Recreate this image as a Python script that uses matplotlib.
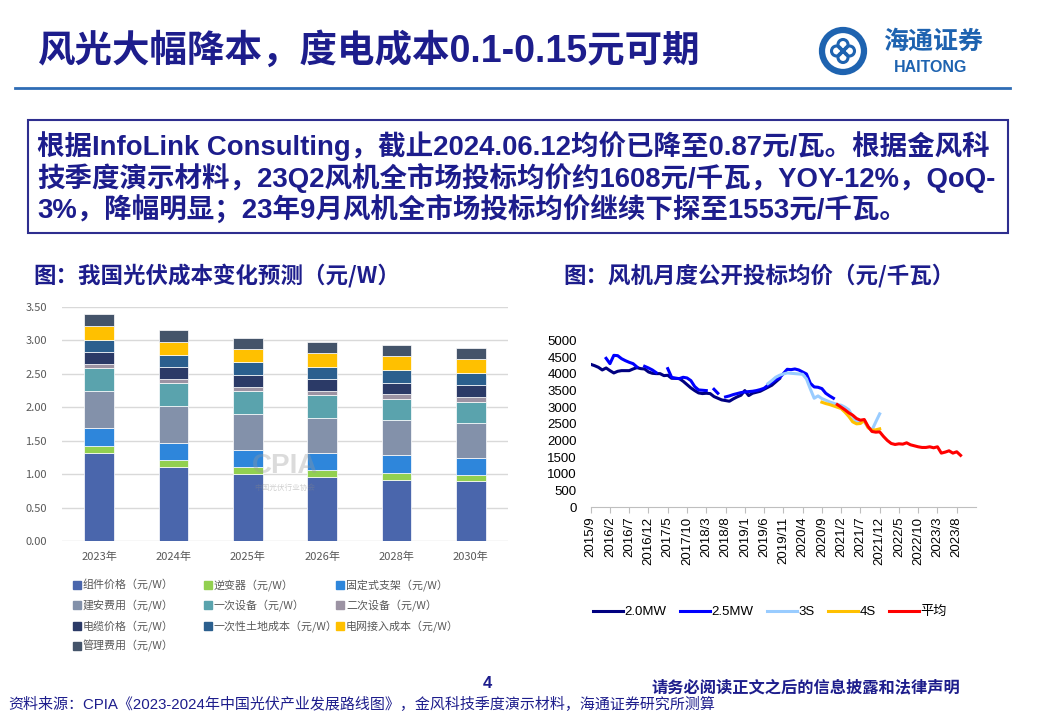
import numpy as np
import matplotlib
matplotlib.use('Agg')
import matplotlib.pyplot as plt
from matplotlib.patches import Rectangle, Circle

plt.rcParams['font.family'] = ['Noto Sans CJK SC', 'DejaVu Sans']
ARIAL_CJK = ['Liberation Sans', 'Noto Sans CJK SC']
NAVY = '#1D1D8C'

# 左图：我国光伏成本变化预测（元/W）
years = ['2023年', '2024年', '2025年', '2026年', '2028年', '2030年']
cost_names = ['组件价格（元/W）', '逆变器（元/W）', '固定式支架（元/W）',
              '建安费用（元/W）', '一次设备（元/W）', '二次设备（元/W）',
              '电缆价格（元/W）', '一次性土地成本（元/W）', '电网接入成本（元/W）',
              '管理费用（元/W）']
module = [1.32, 1.10, 1.00, 0.95, 0.91, 0.89]
inverter = [0.10, 0.11, 0.11, 0.11, 0.11, 0.10]
bracket = [0.27, 0.26, 0.25, 0.26, 0.26, 0.25]
install = [0.56, 0.55, 0.54, 0.52, 0.53, 0.52]
primary = [0.34, 0.34, 0.35, 0.34, 0.32, 0.32]
secondary = [0.06, 0.07, 0.05, 0.07, 0.07, 0.08]
cable = [0.18, 0.17, 0.18, 0.17, 0.17, 0.17]
land = [0.18, 0.18, 0.20, 0.19, 0.19, 0.19]
grid_cost = [0.20, 0.20, 0.19, 0.20, 0.21, 0.20]
manage = [0.18, 0.18, 0.17, 0.17, 0.16, 0.17]
cost_colors = ['#4A66AC', '#92D050', '#2E86DB', '#8391AA', '#5AA3AD',
               '#9C93A3', '#2B3A67', '#2B5F8E', '#FFC000', '#44546A']

# 右图：风机月度公开投标均价（元/千瓦），月份序号 0 = 2015/9
month_ticks = ['2015/9', '2016/2', '2016/7', '2016/12', '2017/5', '2017/10',
               '2018/3', '2018/8', '2019/1', '2019/6', '2019/11', '2020/4',
               '2020/9', '2021/2', '2021/7', '2021/12', '2022/5', '2022/10',
               '2023/3', '2023/8']
nan = np.nan
mw20_start = 0
mw20 = [4290, 4250, 4200, 4120, 4180, 4100, 4030, 4080, 4100, 4100,
        4100, 4150, 4190, 4160, 4150, 4060, 4020, 4010, 4010, 3950,
        3960, 3870, 3870, 3860, 3780, 3680, 3580, 3500, 3430, 3410,
        3420, 3410, 3320, 3270, 3220, 3200, 3180, 3250, 3310, 3360,
        3500, 3350, 3420, 3450, 3480, 3540, 3600, 3660, 3760, 3860]
mw25_start = 4
mw25 = [4470, 4310, 4560, 4550, 4460, 4400, 4350, 4310, 4210, nan,
        4230, 4180, 4120, 4040, nan, nan, 4160, 3900, 3870, 3860,
        3900, 3880, 3800, 3620, 3520, 3510, 3500, nan, 3540, 3420,
        nan, 3310, 3340, 3380, 3410, 3440, 3460, 3470, 3480, 3500,
        3530, 3570, 3660, 3740, 3820, 3880, 4010, 4140, 4130, 4150,
        4120, 4060, 4000, 3720, 3610, 3600, 3560, 3420, 3340, 3270]
s3_start = 46
s3 = [3710, 3800, 3900, 3960, 4000, 4030, 4020, 4010, 4000, 3990,
      3850, 3550, 3270, 3340, 3260, 3210, 3160, 3120, 3080, 3060,
      3000, 2920, 2720, 2540, 2600, 2560, 2400, 2310, 2560, 2800]
s4_start = 60
s4 = [3150, 3110, 3080, 3040, 3000, 2960, 2850, 2720, 2560, 2500,
      2510, 2610, 2380, 2310, 2320, 2350]
avg_start = 64
avg = [3080, 3000, 2920, 2830, 2760, 2660, 2610, 2630, 2420, 2270,
       2250, 2260, 2120, 2000, 1910, 1880, 1900, 1890, 1930, 1870,
       1840, 1810, 1790, 1790, 1810, 1780, 1810, 1620, 1650, 1690,
       1620, 1660, 1553]

fig = plt.figure(figsize=(10.4, 7.18), dpi=100)

# 背景层（像素坐标）
bg = fig.add_axes([0, 0, 1, 1])
bg.set_xlim(0, 1040)
bg.set_ylim(718, 0)
bg.axis('off')

bg.text(38, 51, '风光大幅降本，度电成本0.1-0.15元可期', fontsize=27, weight='bold',
        color=NAVY, va='center', family=ARIAL_CJK)
bg.plot([15, 1010], [88, 88], color='#2F6DB5', lw=2)

# logo
bg.add_patch(Circle((843, 51), 21, fill=False, ec='#1E63B0', lw=4.5))
for dx, dy in [(-6.5, 0), (6.5, 0), (0, -6.5), (0, 6.5)]:
    bg.add_patch(Circle((843 + dx, 51 + dy), 5, fill=False, ec='#1E63B0', lw=2.2))
bg.text(933, 42, '海通证券', fontsize=18, weight='bold', color='#1E63B0',
        ha='center', va='center', style='italic')
bg.text(931, 67, 'HAITONG', fontsize=11.5, weight='bold', color='#1E63B0',
        ha='center', va='center', family='Liberation Sans')

# 文字框
bg.add_patch(Rectangle((28, 120), 980, 113, fill=False, ec='#2E2E8F', lw=1.5))
box_lines = ['根据InfoLink Consulting，截止2024.06.12均价已降至0.87元/瓦。根据金风科',
             '技季度演示材料，23Q2风机全市场投标均价约1608元/千瓦，YOY-12%，QoQ-',
             '3%，降幅明显；23年9月风机全市场投标均价继续下探至1553元/千瓦。']
for i, line in enumerate(box_lines):
    bg.text(37, 146 + i * 31.5, line, fontsize=19.8, weight='bold', color=NAVY,
            va='center', family=ARIAL_CJK)

bg.text(33, 276, '图：我国光伏成本变化预测（元/W）', fontsize=16.2, weight='bold',
        color=NAVY, va='center')
bg.text(563, 276, '图：风机月度公开投标均价（元/千瓦）', fontsize=16.2, weight='bold',
        color=NAVY, va='center')

# 页脚
bg.text(487, 684, '4', fontsize=12, weight='bold', color=NAVY, ha='center', va='center',
        family='Liberation Sans')
bg.text(960, 687, '请务必阅读正文之后的信息披露和法律声明', fontsize=11.7, weight='bold',
        color=NAVY, ha='right', va='center')
bg.text(8, 704, '资料来源：CPIA《2023-2024年中国光伏产业发展路线图》，金风科技季度演示材料，海通证券研究所测算',
        fontsize=10.8, color=NAVY, va='center', family=ARIAL_CJK)

# 左图
ax1 = fig.add_axes([62 / 1040, 1 - 541 / 718, 446 / 1040, 234 / 718])
series = [module, inverter, bracket, install, primary, secondary, cable, land,
          grid_cost, manage]
x = np.arange(len(years))
bottom = np.zeros(len(years))
for vals, c, name in zip(series, cost_colors, cost_names):
    ax1.bar(x, vals, 0.4, bottom=bottom, color=c, edgecolor='white', lw=0.5,
            label=name, zorder=3)
    bottom += np.array(vals)
ax1.set_xlim(-0.5, 5.5)
ax1.set_ylim(0, 3.5)
ax1.set_yticks(np.arange(0, 3.51, 0.5))
ax1.set_yticklabels([f'{v:.2f}' for v in np.arange(0, 3.51, 0.5)])
ax1.set_xticks(x)
ax1.set_xticklabels(years)
ax1.grid(axis='y', color='#D9D9D9', lw=1, zorder=0)
for s in ax1.spines.values():
    s.set_visible(False)
ax1.tick_params(length=0, labelsize=8, colors='#595959')
ax1.tick_params(axis='y', pad=11)
ax1.tick_params(axis='x', pad=8)
ax1.text(2.5, 1.12, 'CPIA', fontsize=20, weight='bold', color='#9A9A9A', alpha=0.35,
         ha='center', va='center', family='Liberation Sans', zorder=5)
ax1.text(2.5, 0.80, '中国光伏行业协会', fontsize=5.5, color='#8A8A8A', alpha=0.4,
         ha='center', va='center', zorder=5)

# 左图图例（按行排列）
col_x = [77, 208, 340]
row_y = [585, 605, 626, 646]
for i, (name, c) in enumerate(zip(cost_names, cost_colors)):
    r, cidx = divmod(i, 3)
    bg.add_patch(Rectangle((col_x[cidx] - 4, row_y[r] - 4), 8, 8, color=c))
    bg.text(col_x[cidx] + 6, row_y[r], name, fontsize=7.9, color='#595959', va='center')

# 右图
ax2 = fig.add_axes([590.7 / 1040, 1 - 507 / 718, 385.3 / 1040, 166.3 / 718])
line_specs = [(mw20_start, mw20, '#000080', '2.0MW'),
              (mw25_start, mw25, '#0000FF', '2.5MW'),
              (s3_start, s3, '#99CCFF', '3S'),
              (s4_start, s4, '#FFC000', '4S'),
              (avg_start, avg, '#FF0000', '平均')]
for start, vals, c, name in line_specs:
    ax2.plot(np.arange(start, start + len(vals)), vals, color=c, lw=2.2, label=name)
ax2.set_xlim(0, 100)
ax2.set_ylim(0, 5000)
ax2.set_yticks(np.arange(0, 5001, 500))
ax2.set_xticks(np.arange(0, 100, 5))
ax2.set_xticklabels(month_ticks, rotation=90, family='Liberation Sans')
for lab in ax2.get_yticklabels():
    lab.set_family('Liberation Sans')
for s in ['top', 'right', 'left']:
    ax2.spines[s].set_visible(False)
ax2.spines['bottom'].set_color('#BFBFBF')
ax2.tick_params(axis='y', length=0, pad=10, labelsize=9.5)
ax2.tick_params(axis='x', length=4, color='#BFBFBF', labelsize=9.5, pad=3)

fig.legend(*ax2.get_legend_handles_labels(), loc='center', ncol=5,
           bbox_to_anchor=(770 / 1040, 1 - 612 / 718), frameon=False,
           handlelength=2.3, handletextpad=0.1, columnspacing=1.0,
           prop={'family': ARIAL_CJK, 'size': 9.5})

fig.savefig('out.png', dpi=100)
